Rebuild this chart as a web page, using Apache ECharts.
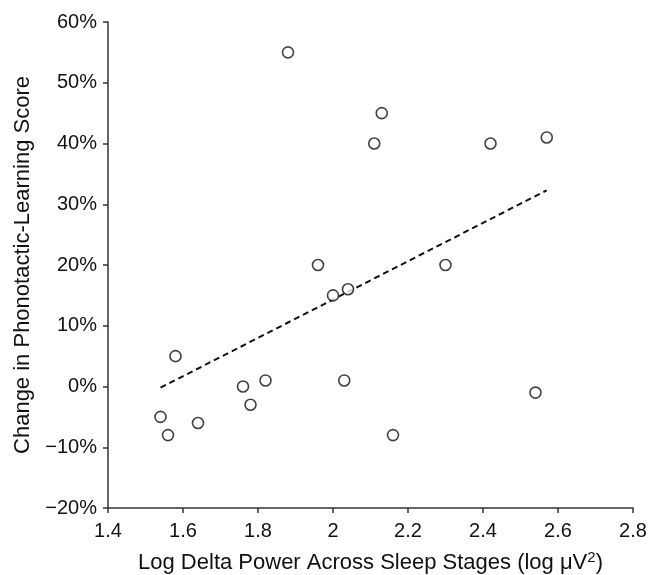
<!DOCTYPE html>
<html>
<head>
<meta charset="utf-8">
<script src="https://cdn.jsdelivr.net/npm/echarts@6/dist/echarts.min.js"></script>
<style>
 html,body{margin:0;padding:0;background:#fff;}
 #main{width:661px;height:575px;}
</style>
</head>
<body>
<div id="main"></div>
<script>
// data
var logDelta=[1.88,2.13,2.11,2.42,2.57,1.96,2.30,2.00,2.04,1.58,1.76,1.82,2.03,1.78,1.54,1.56,1.64,2.16,2.54];
var scoreChange=[55,45,40,40,41,20,20,15,16,5,0,1,1,-3,-5,-8,-6,-8,-1];
var fitX=[1.54,2.57];
var fitY=[-0.2,32.3];
var xTicks=[1.4,2.8,0.2]; // min,max,step
var yTicks=[-20,60,10];

var font='"Liberation Sans", Arial, sans-serif';
var pts=[];
for(var i=0;i<logDelta.length;i++){pts.push([logDelta[i],scoreChange[i]]);}
var fit=[[fitX[0],fitY[0]],[fitX[1],fitY[1]]];

var chart=echarts.init(document.getElementById("main"));
var option={
 animation:false,
 grid:{left:108,right:28,top:22,bottom:67,outerBoundsMode:'none'},
 xAxis:{
  type:'value',
  min:xTicks[0],max:xTicks[1],interval:xTicks[2],
  name:'Log Delta Power Across Sleep Stages (log μV{sup|2})',
  nameLocation:'middle',
  nameGap:42,
  nameTextStyle:{color:'#111',fontSize:22,fontFamily:font,
   rich:{sup:{fontSize:15,verticalAlign:'top',padding:[0,0,10,0],color:'#111',fontFamily:font}}},
  axisLine:{onZero:false,lineStyle:{color:'#333',width:1.5}},
  axisTick:{show:true,length:5,lineStyle:{color:'#333',width:1.5}},
  axisLabel:{color:'#111',fontSize:20,fontFamily:font,margin:13,
   formatter:function(v){return String(Math.round(v*10)/10);}},
  splitLine:{show:false}
 },
 yAxis:{
  type:'value',
  min:yTicks[0],max:yTicks[1],interval:yTicks[2],
  name:'Change in Phonotactic-Learning Score',
  nameLocation:'middle',
  nameGap:68,
  nameTextStyle:{color:'#111',fontSize:22,fontFamily:font},
  axisLine:{show:true,onZero:false,lineStyle:{color:'#333',width:1.5}},
  axisTick:{show:true,length:5,lineStyle:{color:'#333',width:1.5}},
  axisLabel:{color:'#111',fontSize:20,fontFamily:font,margin:11,
   formatter:function(v){return (v<0?'\u2212'+(-v):v)+'%';}},
  splitLine:{show:false}
 },
 series:[
  {
   type:'line',
   data:fit,
   showSymbol:false,
   lineStyle:{color:'#111',width:2,type:[6,4]},
   z:1
  },
  {
   type:'scatter',
   data:pts,
   symbol:'circle',
   symbolSize:11,
   itemStyle:{color:'#fff',borderColor:'#111',borderWidth:1.6},
   z:2
  }
 ]
};
chart.setOption(option);
</script>
</body>
</html>
